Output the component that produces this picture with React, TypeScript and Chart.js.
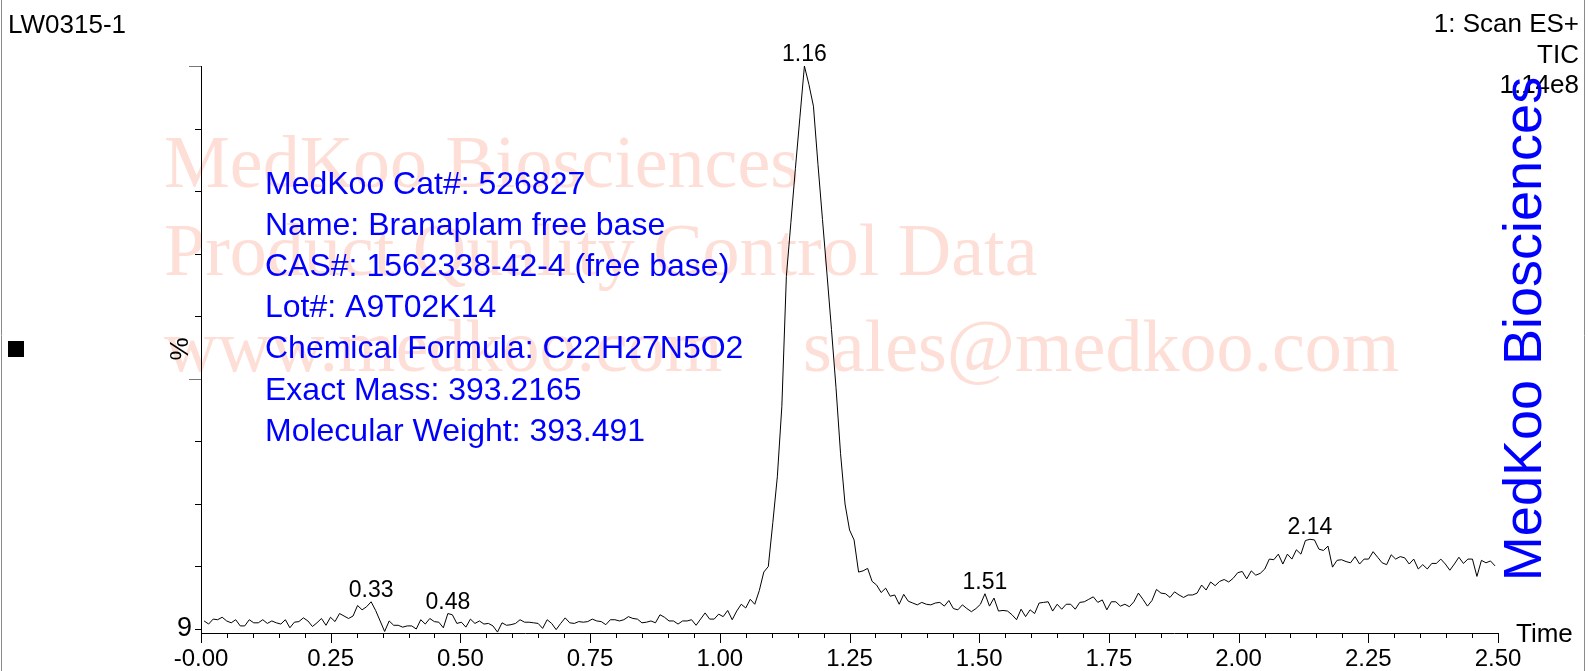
import React, { useEffect, useRef } from "react";
import { Chart, registerables } from "chart.js";

Chart.register(...registerables);

// ---- data (TIC, % relative intensity, one value per scan) ----
const SCAN_START = 0.006; // min
const SCAN_STEP = 0.0087; // min per scan

const ticEarly = [
  10.3, 9.8, 10.6, 10.5, 10.9, 10.3, 10.0, 10.5, 9.5, 9.5,
  10.5, 10.0, 10.0, 10.5, 9.9, 10.3, 10.0, 9.8, 10.5, 9.2,
  10.1, 10.2, 10.8, 10.3, 9.4, 10.0, 10.7, 9.6, 10.9, 10.2,
  11.5, 11.1, 10.7, 11.1, 12.8, 12.1, 12.6, 13.4, 12.0, 10.3,
  8.6, 10.3, 9.6, 9.6, 9.3, 9.5, 9.5, 9.0, 10.5, 9.8,
  10.7, 10.2, 10.1, 9.2, 11.5, 11.3, 9.9, 10.1, 9.3, 10.6,
  9.9, 10.3, 9.8, 9.9, 9.5, 8.5, 10.0, 9.6, 9.7, 9.9,
  10.5, 10.1, 10.1, 10.0, 9.9, 9.1, 10.5, 9.9, 8.9, 9.9,
  10.8, 10.0, 9.9, 10.2, 10.1, 10.2, 10.6, 10.3, 10.2, 9.7,
  10.5, 10.5, 10.3, 10.5, 11.0, 10.7, 10.6, 10.0, 10.1, 10.3,
];
const ticPeak = [
  10.0, 11.3, 10.9, 10.3, 10.3, 9.8, 10.3, 10.3, 10.5, 9.6,
  10.6, 11.6, 10.6, 10.6, 11.4, 11.0, 12.0, 10.5, 11.9, 13.0,
  12.4, 13.8, 13.0, 15.2, 18.2, 19.1, 26.2, 33.6, 45.0, 66.0,
  74.7, 83.4, 91.7, 100.0, 97.0, 93.5, 84.1, 75.2, 66.4, 57.4,
  48.0, 37.4, 29.2, 25.0, 23.4, 18.2,
];
const ticLate = [
  18.4, 18.8, 16.7, 16.1, 14.9, 15.6, 14.3, 14.5, 13.0, 14.6,
  13.5, 13.2, 12.9, 13.3, 13.0, 12.9, 13.2, 13.3, 12.7, 13.6,
  12.3, 12.1, 12.9, 12.3, 11.8, 12.3, 13.0, 14.7, 12.7, 14.0,
  11.9, 12.0, 11.9, 11.3, 10.5, 12.2, 11.0, 12.1, 11.5, 13.2,
  13.3, 13.4, 11.9, 13.0, 12.2, 13.0, 13.0, 12.2, 13.3, 13.4,
  13.8, 14.2, 13.3, 13.7, 12.1, 13.4, 13.4, 12.7, 13.0, 12.6,
  13.4, 14.8,
];
const ticTail = [
  13.8, 12.7, 13.6, 15.4, 14.8, 14.7, 14.1, 15.0, 14.5, 14.1,
  14.5, 14.5, 14.8, 16.1, 15.3, 16.6, 16.0, 16.7, 17.0, 16.6,
  17.2, 18.1, 18.3, 17.1, 18.4, 17.7, 18.0, 18.7, 20.3, 20.2,
  21.1, 19.5, 21.1, 20.3, 21.8, 21.1, 23.3, 23.5, 23.4, 21.9,
  21.7, 22.4, 19.0, 20.1, 20.2, 19.9, 19.7, 20.7, 19.5, 20.3,
  20.3, 21.5, 20.6, 19.7, 19.4, 21.0, 20.3, 20.7, 20.5, 19.5,
  20.3, 18.7, 19.4, 18.7, 19.6, 19.6, 20.3, 19.5, 18.5, 19.5,
  20.6, 19.6, 20.3, 20.3, 17.5, 20.1, 19.7, 20.0, 19.2,
];

const peakLabels = ["0.33", "0.48", "1.16", "1.51", "2.14"];
const peakScanIndex = [37, 54, 133, 173, 245];

const xTickValues = [0, 0.25, 0.5, 0.75, 1.0, 1.25, 1.5, 1.75, 2.0, 2.25, 2.5];
const xTickLabels = ["-0.00", "0.25", "0.50", "0.75", "1.00", "1.25", "1.50", "1.75", "2.00", "2.25", "2.50"];
const xMinorStep = 0.05;
const yTickValues = [9, 19.11, 29.22, 39.33, 49.44, 59.56, 69.67, 79.78, 89.89, 100];
const yTickLabels = ["9", "", "", "", "", "", "", "", "", ""];
const yLongTicks = [4, 9];

const headerLeft = "LW0315-1";
const headerRight = ["1: Scan ES+", "TIC", "1.14e8"];
const infoLines = [
  "MedKoo Cat#: 526827",
  "Name: Branaplam free base",
  "CAS#: 1562338-42-4 (free base)",
  "Lot#: A9T02K14",
  "Chemical Formula: C22H27N5O2",
  "Exact Mass: 393.2165",
  "Molecular Weight: 393.491",
];
const watermarkLines = ["MedKoo Biosciences", "Product Quality Control Data", "www.medkoo.com", "sales@medkoo.com"];
const sideTitle = "MedKoo Biosciences";

const SANS = '"Liberation Sans", Arial, sans-serif';
const SERIF = '"Liberation Serif", "Times New Roman", serif';
const WATERMARK = "rgb(253, 223, 215)";
const BLUE = "#0000ff";

const decorPlugin = {
  id: "decor",
  beforeDraw(chart: any) {
    const ctx = chart.ctx as CanvasRenderingContext2D;
    ctx.save();
    ctx.fillStyle = "#ffffff";
    ctx.fillRect(0, 0, chart.width, chart.height);
    // outer frame lines
    ctx.strokeStyle = "#8a8a8a";
    ctx.lineWidth = 1;
    ctx.beginPath();
    ctx.moveTo(1.5, 0);
    ctx.lineTo(1.5, chart.height);
    ctx.moveTo(1584.5, 0);
    ctx.lineTo(1584.5, chart.height);
    ctx.stroke();
    // watermark
    ctx.fillStyle = WATERMARK;
    ctx.font = `74px ${SERIF}`;
    ctx.textAlign = "left";
    ctx.textBaseline = "alphabetic";
    ctx.fillText(watermarkLines[0], 164, 187);
    ctx.fillText(watermarkLines[1], 164, 275);
    ctx.fillText(watermarkLines[2], 164, 371);
    ctx.fillText(watermarkLines[3], 803, 371);
    ctx.restore();
  },
  afterDraw(chart: any) {
    const ctx = chart.ctx as CanvasRenderingContext2D;
    const xs = chart.scales.x;
    const ys = chart.scales.y;
    const area = chart.chartArea;
    ctx.save();
    // x ticks
    ctx.strokeStyle = "#000";
    ctx.lineWidth = 1;
    ctx.beginPath();
    const nMinor = Math.round((xs.max - xs.min) / xMinorStep);
    for (let k = 0; k <= nMinor; k++) {
      const v = xs.min + k * xMinorStep;
      const px = Math.round(xs.getPixelForValue(v)) + 0.5;
      const isMajor = xTickValues.some((t) => Math.abs(t - v) < 1e-6);
      ctx.moveTo(px, area.bottom);
      ctx.lineTo(px, area.bottom + (isMajor ? 10 : 5));
    }
    ctx.stroke();
    // y ticks
    yTickValues.forEach((v, i) => {
      const py = Math.round(ys.getPixelForValue(v)) + 0.5;
      const long = yLongTicks.includes(i);
      ctx.strokeStyle = long ? "#777" : "#000";
      ctx.beginPath();
      ctx.moveTo(area.left, py);
      ctx.lineTo(area.left - (long ? 12 : 6), py);
      ctx.stroke();
    });
    // peak labels
    const meta = chart.getDatasetMeta(0);
    ctx.fillStyle = "#000";
    ctx.font = `23px ${SANS}`;
    ctx.textAlign = "center";
    ctx.textBaseline = "alphabetic";
    peakScanIndex.forEach((idx, i) => {
      const el = meta.data[idx];
      if (el) ctx.fillText(peakLabels[i], el.x, el.y - 5);
    });
    // header texts
    ctx.font = `26px ${SANS}`;
    ctx.textAlign = "left";
    ctx.fillText(headerLeft, 8, 33);
    ctx.textAlign = "right";
    ctx.fillText(headerRight[0], 1579, 32);
    ctx.fillText(headerRight[1], 1579, 63);
    ctx.fillText(headerRight[2], 1579, 93);
    // axis titles
    ctx.textAlign = "left";
    ctx.fillText("Time", 1516, 642);
    ctx.save();
    ctx.translate(181, 349);
    ctx.rotate(-Math.PI / 2);
    ctx.textAlign = "center";
    ctx.textBaseline = "middle";
    ctx.fillText("%", 0, 0);
    ctx.restore();
    // black square marker
    ctx.fillStyle = "#000";
    ctx.fillRect(8, 341, 16, 16);
    // info block
    ctx.fillStyle = BLUE;
    ctx.font = `32px ${SANS}`;
    ctx.textAlign = "left";
    ctx.textBaseline = "alphabetic";
    infoLines.forEach((line, i) => {
      ctx.fillText(line, 265, 194 + i * 41.1);
    });
    // side title
    ctx.save();
    ctx.translate(1541, 329);
    ctx.rotate(-Math.PI / 2);
    ctx.font = `54px ${SANS}`;
    ctx.textAlign = "center";
    ctx.textBaseline = "alphabetic";
    ctx.fillText(sideTitle, 0, 0);
    ctx.restore();
    ctx.restore();
  },
};

export default function App() {
  const canvasRef = useRef<HTMLCanvasElement | null>(null);

  useEffect(() => {
    const canvas = canvasRef.current;
    if (!canvas) return;
    const values = [...ticEarly, ...ticPeak, ...ticLate, ...ticTail];
    const points = values.map((v, i) => ({ x: SCAN_START + i * SCAN_STEP, y: v }));

    const chart = new Chart(canvas, {
      type: "line",
      data: {
        datasets: [
          {
            data: points,
            borderColor: "#000",
            borderWidth: 1,
            pointRadius: 0,
            tension: 0,
            fill: false,
          },
        ],
      },
      options: {
        responsive: false,
        animation: false,
        devicePixelRatio: 1,
        events: [],
        layout: { padding: { left: 0, right: 90, top: 66, bottom: 0 } },
        plugins: {
          legend: { display: false },
          tooltip: { enabled: false },
        },
        scales: {
          x: {
            type: "linear",
            min: 0,
            max: 2.5,
            afterFit: (s: any) => {
              s.height = 38;
            },
            afterBuildTicks: (s: any) => {
              s.ticks = xTickValues.map((v) => ({ value: v }));
            },
            ticks: {
              callback: (_v: any, i: number) => xTickLabels[i],
              font: { family: SANS, size: 24 },
              color: "#000",
              padding: 12,
              maxRotation: 0,
              autoSkip: false,
            },
            grid: { display: false, drawTicks: false },
            border: { display: true, color: "#000", width: 1 },
          },
          y: {
            type: "linear",
            min: 8.354,
            max: 100,
            afterFit: (s: any) => {
              s.width = 201;
            },
            afterBuildTicks: (s: any) => {
              s.ticks = yTickValues.map((v) => ({ value: v }));
            },
            ticks: {
              callback: (_v: any, i: number) => yTickLabels[i],
              font: { family: SANS, size: 27 },
              color: "#000",
              padding: 9,
              autoSkip: false,
            },
            afterTickToLabelConversion: (s: any) => {
              s.options.ticks.labelOffset = 0;
            },
            grid: { display: false, drawTicks: false },
            border: { display: true, color: "#000", width: 1 },
          },
        },
      },
      plugins: [decorPlugin],
    } as any);

    return () => chart.destroy();
  }, []);

  return (
    <div style={{ position: "absolute", left: 0, top: 0, width: 1588, height: 671, background: "#fff" }}>
      <canvas ref={canvasRef} width={1588} height={671} style={{ width: 1588, height: 671, display: "block" }} />
    </div>
  );
}
